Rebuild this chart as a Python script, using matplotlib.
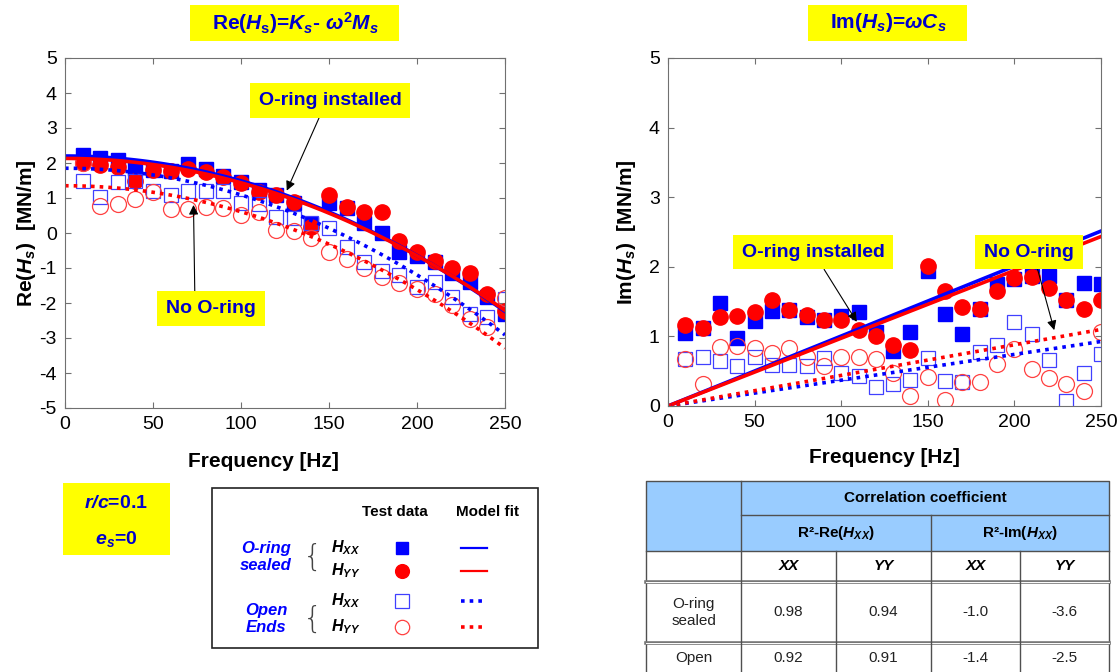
import matplotlib.pyplot as plt
import numpy as np
from matplotlib.patches import Rectangle

plt.rcParams['font.family'] = ['Liberation Sans', 'DejaVu Sans']
plt.rcParams['axes.unicode_minus'] = False
plt.rcParams['mathtext.fontset'] = 'custom'
plt.rcParams['mathtext.rm'] = 'Liberation Sans'
plt.rcParams['mathtext.it'] = 'Liberation Sans:italic'
plt.rcParams['mathtext.bf'] = 'Liberation Sans:bold'
plt.rcParams['mathtext.bfit'] = 'Liberation Sans:italic:bold'

# test frequencies [Hz]
freq = np.arange(10, 260, 10)

# Re(H) test data [MN/m]
re_xx_sealed = [2.22, 2.14, 2.10, 1.86, 1.80, 1.76, 1.96, 1.84, 1.62, 1.45, 1.22, 1.10, 0.85,
                0.25, 0.87, 0.72, 0.29, 0.00, -0.53, -0.67, -0.82, -1.15, -1.41, -1.83, -2.30]
re_yy_sealed = [2.00, 1.95, 1.90, 1.50, 1.81, 1.76, 1.82, 1.75, 1.61, 1.42, 1.18, 1.10, 0.90,
                0.17, 1.09, 0.74, 0.60, 0.60, -0.22, -0.53, -0.79, -0.99, -1.15, -1.73, -2.22]
re_xx_open = [1.49, 1.04, 1.47, 1.50, 1.19, 1.08, 1.19, 1.21, 1.21, 0.85, 0.84, 0.45, 0.43,
              0.28, 0.13, -0.39, -0.82, -1.09, -1.21, -1.55, -1.40, -1.82, -2.32, -2.41, -1.88]
re_yy_open = [2.00, 0.77, 0.84, 0.97, 1.16, 0.70, 0.70, 0.74, 0.71, 0.52, 0.60, 0.10, 0.05,
              -0.14, -0.53, -0.74, -1.01, -1.25, -1.44, -1.59, -1.73, -2.07, -2.45, -2.69, -1.86]

# Im(H) test data [MN/m]
im_xx_sealed = [1.05, 1.12, 1.48, 0.98, 1.22, 1.36, 1.38, 1.28, 1.24, 1.29, 1.35, 1.07, 0.79,
                1.07, 1.94, 1.32, 1.03, 1.39, 1.76, 1.82, 1.87, 1.87, 1.53, 1.77, 1.75]
im_yy_sealed = [1.16, 1.12, 1.28, 1.29, 1.35, 1.52, 1.38, 1.31, 1.24, 1.23, 1.09, 1.01, 0.87,
                0.81, 2.01, 1.65, 1.42, 1.40, 1.65, 1.84, 1.86, 1.69, 1.53, 1.39, 1.53]
im_xx_open = [0.67, 0.71, 0.64, 0.58, 0.70, 0.59, 0.59, 0.57, 0.69, 0.47, 0.43, 0.28, 0.32,
              0.37, 0.69, 0.36, 0.35, 0.78, 0.88, 1.21, 1.04, 0.66, 0.07, 0.48, 0.74]
im_yy_open = [0.67, 0.31, 0.85, 0.86, 0.83, 0.76, 0.83, 0.71, 0.57, 0.70, 0.71, 0.67, 0.48,
              0.15, 0.42, 0.08, 0.35, 0.34, 0.60, 0.82, 0.53, 0.40, 0.32, 0.21, 1.07]

# fitted parameters (XX, YY): K [MN/m], M [kg], C [kN.s/m]
k_sealed = [2.20, 2.13]
m_sealed = [1.80, 1.76]
k_open = [1.85, 1.35]
m_open = [1.93, 1.88]
c_sealed = [1.60, 1.55]
c_open = [0.59, 0.70]

# correlation coefficients: R2-Re XX, YY, R2-Im XX, YY
case_labels = ['O-ring\nsealed', 'Open']
r2_sealed = [0.98, 0.94, -1.0, -3.6]
r2_open = [0.92, 0.91, -1.4, -2.5]

BLUE = '#0000ff'
RED = '#ff0000'
TXT_BLUE = '#0000cc'
YELLOW = '#ffff00'

mk_xx_s = dict(ls='none', marker='s', ms=9.5, color=BLUE, mec=BLUE)
mk_yy_s = dict(ls='none', marker='o', ms=11, color=RED, mec=RED)
mk_xx_o = dict(ls='none', marker='s', ms=10.5, mfc='none', mec='#4040ff', mew=0.9)
mk_yy_o = dict(ls='none', marker='o', ms=11.5, mfc='none', mec='#ff4040', mew=0.9)
ln_xx_s = dict(color=BLUE, lw=2.6)
ln_yy_s = dict(color=RED, lw=2.6)
ln_xx_o = dict(color=BLUE, lw=2.6, ls=(0, (1, 1.4)))
ln_yy_o = dict(color=RED, lw=2.6, ls=(0, (1, 1.4)))

f_fit = np.linspace(0, 250, 126)
w = 2 * np.pi * f_fit


def re_model(k, m):
    return k - w ** 2 * m * 1e-6


def im_model(c):
    return w * c * 1e-3


fig = plt.figure(figsize=(11.2, 6.72), dpi=100)
ax_re = fig.add_axes([65 / 1120, 1 - 408 / 672, 440 / 1120, 350 / 672])
ax_im = fig.add_axes([668 / 1120, 1 - 406 / 672, 433 / 1120, 348 / 672])

for ax in (ax_re, ax_im):
    for sp in ax.spines.values():
        sp.set_color('#707070')
    ax.tick_params(direction='in', top=True, right=True, length=4, color='#707070',
                   labelsize=14, pad=6)
    ax.set_xlim(0, 250)
    ax.set_xticks(np.arange(0, 251, 50))
    ax.set_xlabel('Frequency [Hz]', fontsize=15, fontweight='bold', labelpad=12)
ax_re.xaxis.set_label_coords(0.45, -0.125)

# real part
ax_re.plot(freq, re_xx_sealed, **mk_xx_s)
ax_re.plot(freq, re_yy_sealed, **mk_yy_s)
ax_re.plot(freq, re_xx_open, **mk_xx_o)
ax_re.plot(freq, re_yy_open, **mk_yy_o)
ax_re.plot(f_fit, re_model(k_sealed[0], m_sealed[0]), **ln_xx_s)
ax_re.plot(f_fit, re_model(k_sealed[1], m_sealed[1]), **ln_yy_s)
ax_re.plot(f_fit, re_model(k_open[0], m_open[0]), **ln_xx_o)
ax_re.plot(f_fit, re_model(k_open[1], m_open[1]), **ln_yy_o)
ax_re.set_ylim(-5, 5)
ax_re.set_yticks(np.arange(-5, 6, 1))
ax_re.set_ylabel(r'Re($\mathbfit{H}_\mathbfit{s}$)  [MN/m]', fontsize=15, fontweight='bold',
                 labelpad=1)

# imaginary part
ax_im.plot(freq, im_xx_sealed, **mk_xx_s)
ax_im.plot(freq, im_yy_sealed, **mk_yy_s)
ax_im.plot(freq, im_xx_open, **mk_xx_o)
ax_im.plot(freq, im_yy_open, **mk_yy_o)
ax_im.plot(f_fit, im_model(c_sealed[0]), **ln_xx_s)
ax_im.plot(f_fit, im_model(c_sealed[1]), **ln_yy_s)
ax_im.plot(f_fit, im_model(c_open[0]), **ln_xx_o)
ax_im.plot(f_fit, im_model(c_open[1]), **ln_yy_o)
ax_im.set_ylim(0, 5)
ax_im.set_yticks(np.arange(0, 6, 1))
ax_im.set_ylabel(r'Im($\mathbfit{H}_\mathbfit{s}$)  [MN/m]', fontsize=15, fontweight='bold',
                 labelpad=8)


def callout(ax, text, xy, xytext, relpos):
    ax.annotate(text, xy=xy, xytext=xytext, ha='center', va='center', fontsize=14,
                fontweight='bold', color=TXT_BLUE, zorder=10,
                bbox=dict(boxstyle='square,pad=0.45', fc=YELLOW, ec='none'),
                arrowprops=dict(arrowstyle='-|>', color='black', lw=0.8, mutation_scale=14,
                                relpos=relpos, shrinkA=0, shrinkB=0))


callout(ax_re, 'O-ring installed', (126, 1.21), (150.6, 3.78), (0.45, 0))
callout(ax_re, 'No O-ring', (73, 0.80), (83, -2.16), (0.32, 1))
callout(ax_im, 'O-ring installed', (109, 1.21), (83.7, 2.21), (0.54, 0))
callout(ax_im, 'No O-ring', (223, 1.09), (208.4, 2.21), (0.57, 0))

# page-level decorations in pixel coordinates
ax0 = fig.add_axes([0, 0, 1, 1])
ax0.set_xlim(0, 1120)
ax0.set_ylim(672, 0)
ax0.set_axis_off()
ax0.patch.set_alpha(0)

ax0.add_patch(Rectangle((190, 5), 209, 36, fc=YELLOW, ec='none'))
ax0.text(295, 23, r'Re($\mathbfit{H}_\mathbf{s}$)=$\mathbfit{K}_\mathbfit{s}$- '
         r'$\mathbfit{\omega}^\mathbf{2}\mathbfit{M}_\mathbfit{s}$',
         ha='center', va='center', fontsize=15, fontweight='bold', color=TXT_BLUE)
ax0.add_patch(Rectangle((808, 5), 159, 36, fc=YELLOW, ec='none'))
ax0.text(888, 23, r'Im($\mathbfit{H}_\mathbfit{s}$)=$\mathbfit{\omega C}_\mathbfit{s}$',
         ha='center', va='center', fontsize=15, fontweight='bold', color=TXT_BLUE)

# test conditions
ax0.add_patch(Rectangle((63, 483), 107, 72, fc=YELLOW, ec='none'))
ax0.text(116, 503, r'$\mathbfit{r/c}$=0.1', ha='center', va='center', fontsize=14,
         fontweight='bold', color=TXT_BLUE)
ax0.text(116, 539, r'$\mathbfit{e}_\mathbfit{s}$=0', ha='center', va='center', fontsize=14,
         fontweight='bold', color=TXT_BLUE)

# legend panel
ax0.add_patch(Rectangle((212, 488), 326, 160, fc='white', ec='#222222', lw=1.2))
ax0.text(395, 512, 'Test data', ha='center', va='center', fontsize=11, fontweight='bold')
ax0.text(487, 512, 'Model fit', ha='center', va='center', fontsize=11, fontweight='bold')
groups = [('O-ring\nsealed', 557, mk_xx_s, mk_yy_s, ln_xx_s, ln_yy_s, 548, 571),
          ('Open\nEnds', 619, mk_xx_o, mk_yy_o, ln_xx_o, ln_yy_o, 601, 627)]
for name, yc, mk_x, mk_y, ln_x, ln_y, y_x, y_y in groups:
    ax0.text(266, yc, name, ha='center', va='center', fontsize=12, fontweight='bold',
             fontstyle='italic', color=BLUE, linespacing=1.25)
    ax0.text(313, yc, '{', ha='center', va='center', fontsize=22, color='#444444',
             fontweight='light', family='DejaVu Sans')
    ax0.text(346, y_x, r'$\mathbfit{H}_{\mathbfit{XX}}$', ha='center', va='center', fontsize=11.5)
    ax0.text(346, y_y, r'$\mathbfit{H}_{\mathbfit{YY}}$', ha='center', va='center', fontsize=11.5)
    ax0.plot([402], [y_x], **{**mk_x, 'ms': mk_x['ms'] * 0.9})
    ax0.plot([402], [y_y], **{**mk_y, 'ms': mk_y['ms'] * 0.9})
    ax0.plot([461, 487], [y_x, y_x], **{**ln_x, 'lw': 1.6 if 'ls' not in ln_x else 2.6})
    ax0.plot([461, 487], [y_y, y_y], **{**ln_y, 'lw': 1.6 if 'ls' not in ln_y else 2.6})

# correlation table
cx = [646, 741, 836, 931, 1020, 1109]
ry = [481, 515, 551, 582, 643, 700]
HDR = '#99ccff'
ax0.add_patch(Rectangle((cx[0], ry[0]), cx[-1] - cx[0], ry[2] - ry[0], fc=HDR, ec='none'))
ax0.text((cx[1] + cx[-1]) / 2, (ry[0] + ry[1]) / 2, 'Correlation coefficient',
         ha='center', va='center', fontsize=11, fontweight='bold')
ax0.text((cx[1] + cx[3]) / 2, (ry[1] + ry[2]) / 2, r'R²-Re($\mathbfit{H}_{\mathbfit{XX}}$)',
         ha='center', va='center', fontsize=11, fontweight='bold')
ax0.text((cx[3] + cx[5]) / 2, (ry[1] + ry[2]) / 2, r'R²-Im($\mathbfit{H}_{\mathbfit{XX}}$)',
         ha='center', va='center', fontsize=11, fontweight='bold')
for j, lab in enumerate(['XX', 'YY', 'XX', 'YY']):
    ax0.text((cx[j + 1] + cx[j + 2]) / 2, (ry[2] + ry[3]) / 2, lab, ha='center', va='center',
             fontsize=11, fontweight='bold', fontstyle='italic')
for i, (lab, vals) in enumerate(zip(case_labels, [r2_sealed, r2_open])):
    yc = (ry[i + 3] + ry[i + 4]) / 2 if i == 0 else 658
    ax0.text((cx[0] + cx[1]) / 2, yc, lab, ha='center', va='center', fontsize=11,
             color='#222222', linespacing=1.3)
    for j, v in enumerate(vals):
        ax0.text((cx[j + 1] + cx[j + 2]) / 2, yc, f'{v:.2f}' if j < 2 else f'{v:.1f}',
                 ha='center', va='center', fontsize=11, color='#222222')

LC = '#505050'
ax0.plot([cx[0], cx[-1], cx[-1], cx[0], cx[0]], [ry[-1], ry[-1], ry[0], ry[0], ry[-1]],
         color=LC, lw=1.0)
ax0.plot([cx[1], cx[-1]], [ry[1], ry[1]], color=LC, lw=1.0)
ax0.plot([cx[0], cx[-1]], [ry[2], ry[2]], color=LC, lw=1.0)
for y in ry[3:5]:
    ax0.plot([cx[0], cx[-1]], [y, y], color='#777777', lw=2.6)
    ax0.plot([cx[0], cx[-1]], [y, y], color='white', lw=0.7)
ax0.plot([cx[1], cx[1]], [ry[0], ry[-1]], color=LC, lw=1.0)
ax0.plot([cx[3], cx[3]], [ry[1], ry[-1]], color=LC, lw=1.0)
for x in (cx[2], cx[4]):
    ax0.plot([x, x], [ry[2], ry[-1]], color=LC, lw=1.0)

fig.savefig('out.png', dpi=100)
